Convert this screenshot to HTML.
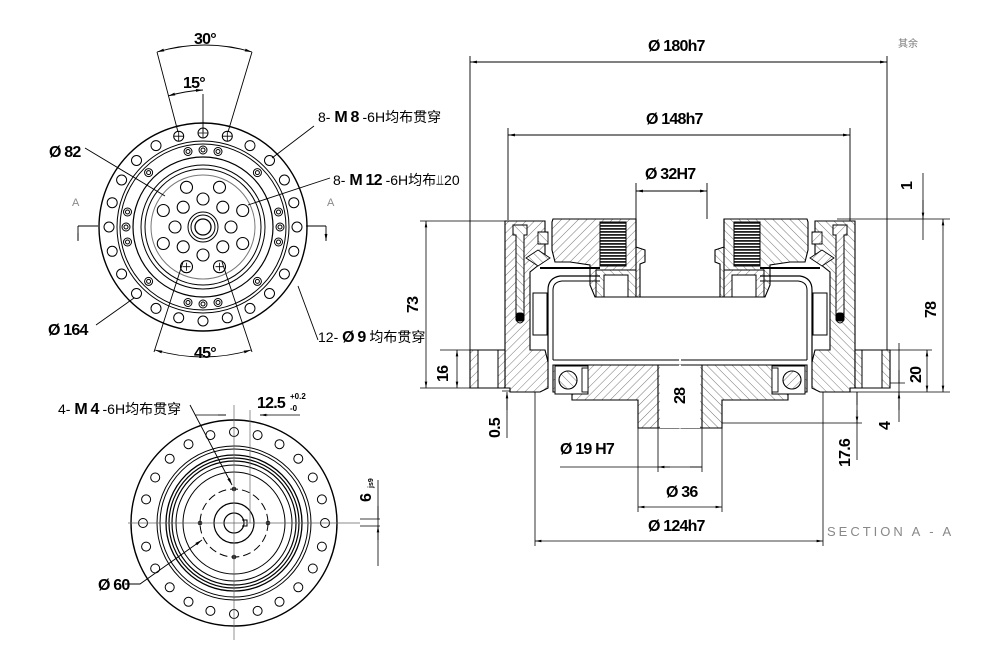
<!DOCTYPE html>
<html><head><meta charset="utf-8"><style>
html,body{margin:0;padding:0;background:#fff;}
svg{display:block;font-family:"Liberation Sans","Noto Sans CJK SC",sans-serif;}
.d{font-family:"Liberation Sans","Noto Sans CJK SC",sans-serif;font-weight:bold;font-size:16px;letter-spacing:-0.8px;}
.n{font-size:14px;}
</style></head><body>
<svg width="1008" height="665" viewBox="0 0 1008 665" xmlns="http://www.w3.org/2000/svg">
<defs>
<pattern id="h" width="6" height="6" patternUnits="userSpaceOnUse" patternTransform="rotate(45)">
<rect width="6" height="6" fill="#fff"/><line x1="0" y1="0" x2="0" y2="6" stroke="#555" stroke-width="0.8"/></pattern>
<pattern id="h2" width="6" height="6" patternUnits="userSpaceOnUse" patternTransform="rotate(-45)">
<rect width="6" height="6" fill="#fff"/><line x1="0" y1="0" x2="0" y2="6" stroke="#555" stroke-width="0.8"/></pattern>
<pattern id="sp" width="4" height="3" patternUnits="userSpaceOnUse">
<rect width="4" height="3" fill="#fff"/><rect width="4" height="1.8" fill="#222"/></pattern>
<marker id="a" viewBox="0 0 10 10" refX="10" refY="5" markerWidth="8" markerHeight="8" orient="auto-start-reverse"><path d="M0,3 L10,5 L0,7z" fill="#000"/></marker>
</defs>
<g fill="none" stroke="#000" stroke-width="1">

<!-- ===== TOP-LEFT VIEW ===== -->
<g transform="translate(203,227)">
<circle r="104" stroke-width="1.4"/><circle r="86"/><circle r="83"/><circle r="70" stroke-width="1.2"/><circle r="62"/><circle r="58"/><circle r="52" stroke="#777"/>
</g>
<g transform="translate(203,227)" stroke-width="1">
<g>
<circle cx="0" cy="-94" r="5"/><circle cx="24.3" cy="-90.8" r="5"/><circle cx="47" cy="-81.4" r="5"/><circle cx="66.5" cy="-66.5" r="5"/><circle cx="81.4" cy="-47" r="5"/><circle cx="90.8" cy="-24.3" r="5"/>
<circle cx="94" cy="0" r="5"/><circle cx="90.8" cy="24.3" r="5"/><circle cx="81.4" cy="47" r="5"/><circle cx="66.5" cy="66.5" r="5"/><circle cx="47" cy="81.4" r="5"/><circle cx="24.3" cy="90.8" r="5"/>
<circle cx="0" cy="94" r="5"/><circle cx="-24.3" cy="90.8" r="5"/><circle cx="-47" cy="81.4" r="5"/><circle cx="-66.5" cy="66.5" r="5"/><circle cx="-81.4" cy="47" r="5"/><circle cx="-90.8" cy="24.3" r="5"/>
<circle cx="-94" cy="0" r="5"/><circle cx="-90.8" cy="-24.3" r="5"/><circle cx="-81.4" cy="-47" r="5"/><circle cx="-66.5" cy="-66.5" r="5"/><circle cx="-47" cy="-81.4" r="5"/><circle cx="-24.3" cy="-90.8" r="5"/>
</g>
<g>
<circle cx="0" cy="-77" r="4"/><circle cx="0" cy="-77" r="2"/><circle cx="-15" cy="-75.5" r="4"/><circle cx="-15" cy="-75.5" r="2"/><circle cx="15" cy="-75.5" r="4"/><circle cx="15" cy="-75.5" r="2"/>
<circle cx="54.4" cy="-54.4" r="4"/><circle cx="54.4" cy="-54.4" r="2"/><circle cx="77" cy="0" r="4"/><circle cx="77" cy="0" r="2"/><circle cx="75.5" cy="15" r="4"/><circle cx="75.5" cy="15" r="2"/><circle cx="75.5" cy="-15" r="4"/><circle cx="75.5" cy="-15" r="2"/>
<circle cx="54.4" cy="54.4" r="4"/><circle cx="54.4" cy="54.4" r="2"/><circle cx="0" cy="77" r="4"/><circle cx="0" cy="77" r="2"/><circle cx="-15" cy="75.5" r="4"/><circle cx="-15" cy="75.5" r="2"/><circle cx="15" cy="75.5" r="4"/><circle cx="15" cy="75.5" r="2"/>
<circle cx="-54.4" cy="54.4" r="4"/><circle cx="-54.4" cy="54.4" r="2"/><circle cx="-77" cy="0" r="4"/><circle cx="-77" cy="0" r="2"/><circle cx="-75.5" cy="15" r="4"/><circle cx="-75.5" cy="15" r="2"/><circle cx="-75.5" cy="-15" r="4"/><circle cx="-75.5" cy="-15" r="2"/><circle cx="-54.4" cy="-54.4" r="4"/><circle cx="-54.4" cy="-54.4" r="2"/>
</g>
<path d="M-5,-94h10M0,-99v10M19.3,-90.8h10M24.3,-95.8v10M-29.3,-90.8h10M-24.3,-95.8v10" stroke-width="0.8"/>
<g stroke-width="1.1">
<circle cx="-16.5" cy="-39.7" r="6"/><circle cx="16.5" cy="-39.7" r="6"/><circle cx="39.7" cy="-16.5" r="6"/><circle cx="39.7" cy="16.5" r="6"/><circle cx="16.5" cy="39.7" r="6"/><circle cx="-16.5" cy="39.7" r="6"/><circle cx="-39.7" cy="16.5" r="6"/><circle cx="-39.7" cy="-16.5" r="6"/>
<circle cx="0" cy="-28" r="6"/><circle cx="19.8" cy="-19.8" r="6"/><circle cx="28" cy="0" r="6"/><circle cx="19.8" cy="19.8" r="6"/><circle cx="0" cy="28" r="6"/><circle cx="-19.8" cy="19.8" r="6"/><circle cx="-28" cy="0" r="6"/><circle cx="-19.8" cy="-19.8" r="6"/>
</g>
<path d="M-20.5,39.7h8M-16.5,35.7v8M12.5,39.7h8M16.5,35.7v8" stroke-width="0.8"/>
<circle r="15"/><circle r="12"/><circle r="8" stroke-width="1.3"/>
</g>
<path d="M157,52 L178,132 M252,52 L228,132 M203,94 V132 M183,262 L154,352 M222,262 L252,352" stroke-width="0.9"/>
<path d="M157,52 Q205,38 252,52" marker-start="url(#a)" marker-end="url(#a)" stroke-width="0.9"/>
<path d="M168,96 Q185,91 203,90" marker-start="url(#a)" marker-end="url(#a)" stroke-width="0.9"/>
<path d="M155,350 Q203,364 251,350" marker-start="url(#a)" marker-end="url(#a)" stroke-width="0.9"/>
<path d="M78,226 H98 M306,226 H326 M78,226 V240 M326,226 V240" stroke-width="0.9"/>
<path d="M78,233 v8 M326,233 v8" marker-end="url(#a)" stroke-width="0.9"/>
<path d="M85,148 L165,196 M314,126 L272,158 M330,178 L248,205 M96,325 L134,298 M298,286 L318,340" stroke-width="0.9"/>

<!-- ===== BOTTOM-LEFT VIEW ===== -->
<g transform="translate(234,523)">
<circle r="103" stroke-width="1.4"/><circle r="77"/><circle r="74"/><circle r="68" stroke-width="1.3"/><circle r="65" stroke-width="1.2"/><circle r="62" stroke-width="1.2"/><circle r="58"/><circle r="51"/>
<circle r="34" stroke-dasharray="8,4"/><circle r="20" stroke-width="1.2"/><circle r="10" stroke-width="1.2"/>
<path d="M8,-3 h5 v6 h-5" stroke-width="1"/>
<g>
<circle cx="0" cy="-91" r="4.5"/><circle cx="23.6" cy="-87.9" r="4.5"/><circle cx="45.5" cy="-78.8" r="4.5"/><circle cx="64.3" cy="-64.3" r="4.5"/><circle cx="78.8" cy="-45.5" r="4.5"/><circle cx="87.9" cy="-23.6" r="4.5"/>
<circle cx="91" cy="0" r="4.5"/><circle cx="87.9" cy="23.6" r="4.5"/><circle cx="78.8" cy="45.5" r="4.5"/><circle cx="64.3" cy="64.3" r="4.5"/><circle cx="45.5" cy="78.8" r="4.5"/><circle cx="23.6" cy="87.9" r="4.5"/>
<circle cx="0" cy="91" r="4.5"/><circle cx="-23.6" cy="87.9" r="4.5"/><circle cx="-45.5" cy="78.8" r="4.5"/><circle cx="-64.3" cy="64.3" r="4.5"/><circle cx="-78.8" cy="45.5" r="4.5"/><circle cx="-87.9" cy="23.6" r="4.5"/>
<circle cx="-91" cy="0" r="4.5"/><circle cx="-87.9" cy="-23.6" r="4.5"/><circle cx="-78.8" cy="-45.5" r="4.5"/><circle cx="-64.3" cy="-64.3" r="4.5"/><circle cx="-45.5" cy="-78.8" r="4.5"/><circle cx="-23.6" cy="-87.9" r="4.5"/>
</g>
<g fill="#222" stroke="none"><circle cx="0" cy="-34" r="2.3"/><circle cx="0" cy="34" r="2.3"/><circle cx="-34" cy="0" r="2.3"/><circle cx="34" cy="0" r="2.3"/></g>
</g>
<path d="M128,523 H360 M234,405 V640 M250,410 V523 M252,523 H340" stroke="#666" stroke-width="0.7"/>
<path d="M190,405 L232,485" stroke-width="0.9" marker-end="url(#a)"/>
<path d="M125,584 H140 L202,540" stroke-width="0.9" marker-end="url(#a)"/>
<path d="M195,415 H226 M260,415 H300" stroke-width="0.8"/>
<path d="M218,415 h8 M268,415 h-8" marker-end="url(#a)" stroke-width="0.8"/>
<path d="M378,480 V566 M360,519 H380 M360,526 H380" stroke-width="0.8"/>
<path d="M378,506 v13 M378,540 v-14" marker-end="url(#a)" stroke-width="0.8"/>

<!-- ===== SECTION VIEW ===== -->
<path d="M470,56 V388 M887,56 V388 M508,128 V220 M850,128 V350 M636,183 V219 M707,183 V219" stroke-width="0.9"/>
<path d="M470,62 H887" marker-start="url(#a)" marker-end="url(#a)" stroke-width="0.9"/>
<path d="M508,135 H850" marker-start="url(#a)" marker-end="url(#a)" stroke-width="0.9"/>
<path d="M636,191 H707" marker-start="url(#a)" marker-end="url(#a)" stroke-width="0.9"/>
<path d="M420,221 H505 M440,350 H470 M420,388 H470" stroke-width="0.8"/>
<path d="M426,221 V388" marker-start="url(#a)" marker-end="url(#a)" stroke-width="0.8"/>
<path d="M457,350 V388" marker-start="url(#a)" marker-end="url(#a)" stroke-width="0.8"/>
<path d="M502,391 H535 M507,382 V388" stroke-width="0.8"/>
<path d="M507,395 V438" stroke-width="0.8"/>
<path d="M507,410 V392" marker-end="url(#a)" stroke-width="0.8"/>
<path d="M837,219 H950 M887,350 H932 M823,392 H950 M700,423 H862 M862,383 H905" stroke-width="0.8"/>
<path d="M943,219 V392" marker-start="url(#a)" marker-end="url(#a)" stroke-width="0.8"/>
<path d="M927,350 V392" marker-start="url(#a)" marker-end="url(#a)" stroke-width="0.8"/>
<path d="M923,173 V240 M899,343 V422 M857,392 V460" stroke-width="0.8"/>
<path d="M923,200 V219" marker-end="url(#a)" stroke-width="0.8"/>
<path d="M899,370 V383 M899,410 V392" marker-end="url(#a)" stroke-width="0.8"/>
<path d="M857,405 V392 M857,410 V423" marker-end="url(#a)" stroke-width="0.8"/>
<path d="M638,428 V512 M722,428 V512 M658,428 V472 M702,428 V472 M535,392 V546 M823,392 V546" stroke-width="0.8"/>
<path d="M560,467 H702" stroke-width="0.8"/>
<path d="M690,467 h12 M670,467 h-12" marker-end="url(#a)" stroke-width="0.8"/>
<path d="M638,507 H722" marker-start="url(#a)" marker-end="url(#a)" stroke-width="0.8"/>
<path d="M535,541 H823" marker-start="url(#a)" marker-end="url(#a)" stroke-width="0.8"/>
<path d="M690,365 V428" marker-start="url(#a)" marker-end="url(#a)" stroke-width="0.8"/>

<g id="half">
<path d="M505,221 H545 V260 L530,272 V350 H545 L548,362 V388 L540,392 H510 V388 H505 V350 H505Z" fill="url(#h)" stroke-width="1.1"/>
<path d="M470,350 H505 V388 H470Z" fill="url(#h)" stroke-width="1.1"/>
<rect x="478" y="350" width="20" height="38" fill="#fff"/>
<path d="M513,225 h14 v10 h-3 v85 q-4,6 -8,0 v-85 h-3z" fill="url(#h2)" stroke-width="1"/>
<rect x="516" y="313" width="8" height="8" rx="3" fill="#000"/>
<path d="M553,219 H636 V247 L645,250 V262 L640,264 V297 H595 L590,285 V265 L570,262 H555 L552,250 V222Z" fill="url(#h)" stroke-width="1.1"/>
<rect x="600" y="222" width="26" height="44" fill="url(#sp)" stroke-width="1"/>
<rect x="596" y="270" width="40" height="27" fill="url(#h2)" stroke-width="1"/>
<rect x="604" y="275" width="24" height="22" fill="#fff"/>
<path d="M538,232 h10 v12 h-10z M538,250 l12,8 l-12,8 l-12,-8z" fill="url(#h2)" stroke-width="0.9"/>
<path d="M540,268 H600" stroke-width="2"/>
<path d="M548,362 V290 Q548,278 560,276 H600" stroke-width="1.2"/>
<path d="M553,360 V290 Q553,282 562,281 H600" stroke-width="1"/>
<rect x="533" y="293" width="14" height="42" fill="#fff" stroke-width="1"/>
<path d="M553,365 H679 V428 H638 V400 H572 V392 H553Z" fill="url(#h)" stroke-width="1.1"/>
<rect x="660" y="365" width="20" height="63" fill="#fff" stroke="none"/>
<rect x="555" y="366" width="33" height="28" fill="#fff" stroke-width="1"/>
<circle cx="568" cy="380" r="9" fill="url(#h2)" stroke-width="1.1"/>
<rect x="582" y="368" width="6" height="24" fill="#fff" stroke-width="0.9"/>
<path d="M553,360 H679 M553,365 H679" stroke-width="1"/>
</g>
<use href="#half" transform="translate(1360,0) scale(-1,1)"/>
<path d="M658,365 V428 M702,365 V428 M636,219 V297 M724,219 V297 M636,297 H724" stroke-width="1.1"/>
</g>

<g fill="#000">
<text x="194" y="44" class="d" font-size="15">30°</text>
<text x="183" y="88" class="d" font-size="15">15°</text>
<text x="194" y="358" class="d" font-size="15">45°</text>
<text x="49" y="157" class="d">Ø 82</text>
<text x="48" y="335" class="d">Ø 164</text>
<text x="318" y="122" class="n">8- <tspan class="d">M 8</tspan> -6H均布贯穿</text>
<text x="333" y="185" class="n">8- <tspan class="d">M 12</tspan> -6H均布⫫20</text>
<text x="318" y="342" class="n">12- <tspan class="d">Ø 9</tspan> 均布贯穿</text>
<text x="72" y="206" font-size="11" fill="#888">A</text>
<text x="327" y="206" font-size="11" fill="#888">A</text>
<text x="58" y="414" class="n">4- <tspan class="d">M 4</tspan> -6H均布贯穿</text>
<text x="257" y="408" class="d">12.5</text>
<text x="290" y="399" font-size="8" font-weight="bold">+0.2</text>
<text x="290" y="411" font-size="8" font-weight="bold">-0</text>
<text x="98" y="590" class="d">Ø 60</text>
<text class="d" transform="translate(371,502) rotate(-90)">6</text>
<text font-size="7" font-weight="bold" transform="translate(373,488) rotate(-90)">js9</text>
<text x="648" y="51" class="d">Ø 180h7</text>
<text x="646" y="124" class="d">Ø 148h7</text>
<text x="645" y="179" class="d">Ø 32H7</text>
<text x="898" y="47" font-size="10" fill="#777">其余</text>
<text x="560" y="454" class="d">Ø 19 H7</text>
<text x="666" y="497" class="d">Ø 36</text>
<text x="648" y="531" class="d">Ø 124h7</text>
<text x="827" y="536" font-size="13" fill="#888" letter-spacing="3">SECTION A - A</text>
<text class="d" transform="translate(418,313) rotate(-90)">73</text>
<text class="d" transform="translate(448,382) rotate(-90)">16</text>
<text class="d" transform="translate(500,438) rotate(-90)">0.5</text>
<text class="d" transform="translate(685,404) rotate(-90)">28</text>
<text class="d" transform="translate(912,190) rotate(-90)">1</text>
<text class="d" transform="translate(936,318) rotate(-90)">78</text>
<text class="d" transform="translate(921,383) rotate(-90)">20</text>
<text class="d" transform="translate(890,430) rotate(-90)">4</text>
<text class="d" transform="translate(850,467) rotate(-90)">17.6</text>
</g>
</svg>
</body></html>
